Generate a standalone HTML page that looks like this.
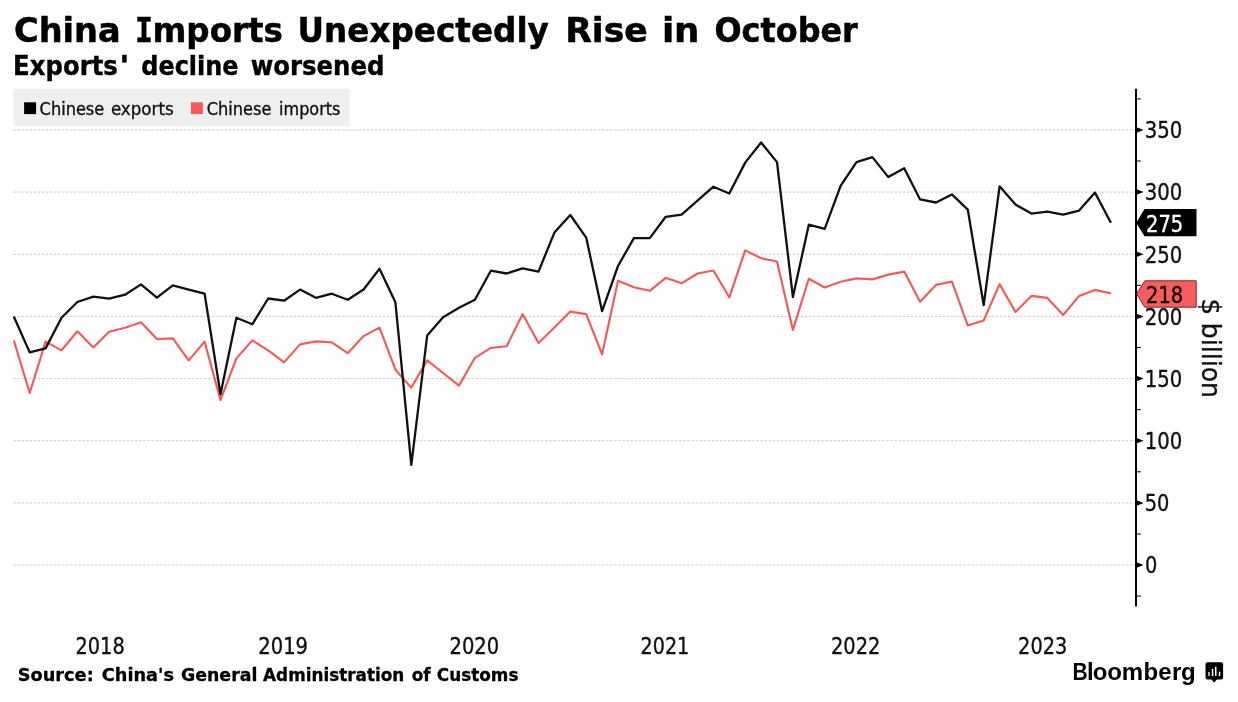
<!DOCTYPE html>
<html lang="en">
<head>
<meta charset="utf-8">
<title>China Imports Unexpectedly Rise in October</title>
<style>
html,body{margin:0;padding:0;background:#fff;}
body{width:1238px;height:702px;overflow:hidden;}
svg{display:block;}
.b{font-family:"DejaVu Sans","Liberation Sans",sans-serif;font-weight:bold;fill:#000;}
.r{font-family:"DejaVu Sans Condensed","DejaVu Sans","Liberation Sans",sans-serif;font-stretch:condensed;fill:#111;}
.l{font-family:"Liberation Sans",sans-serif;font-weight:bold;fill:#000;}
.m{font-family:"DejaVu Sans Mono","Liberation Mono",monospace;font-weight:bold;fill:#000;}
.t{stroke:#000;stroke-width:0.5px;}
.k{stroke:#111;stroke-width:0.35px;}
.u{stroke:#000;stroke-width:0.4px;}
.v{stroke:#000;stroke-width:0.3px;}
.grid line{stroke:#cacaca;stroke-width:1;stroke-dasharray:2.5 1.56;}
.minor line{stroke:#000;stroke-width:1;}
</style>
</head>
<body>
<svg width="1238" height="702" viewBox="0 0 1238 702">
<rect width="1238" height="702" fill="#fff"/>
<g class="b t" font-size="34.2"><text y="41.8"><tspan x="14.0" textLength="106.65" lengthAdjust="spacingAndGlyphs">China</tspan> <tspan class="m t" x="134.9" textLength="18.0" lengthAdjust="spacingAndGlyphs">I</tspan><tspan x="152.5" textLength="130.4" lengthAdjust="spacingAndGlyphs">mports</tspan> <tspan x="297.6" textLength="251.25" lengthAdjust="spacingAndGlyphs">Unexpectedly</tspan> <tspan x="565.2" textLength="82.7" lengthAdjust="spacingAndGlyphs">Rise</tspan> <tspan x="661.9" textLength="37.65" lengthAdjust="spacingAndGlyphs">in</tspan> <tspan x="714.5" textLength="143.35" lengthAdjust="spacingAndGlyphs">October</tspan></text></g>
<g class="b u" font-size="25.8"><text y="75.0"><tspan x="13.1" textLength="104.7" lengthAdjust="spacingAndGlyphs">Exports</tspan><tspan x="119.3" textLength="10.2" lengthAdjust="spacingAndGlyphs">'</tspan> <tspan x="141.3" textLength="97.25" lengthAdjust="spacingAndGlyphs">decline</tspan> <tspan x="250.7" textLength="133.75" lengthAdjust="spacingAndGlyphs">worsened</tspan></text></g>
<g class="grid"><line x1="13.3" x2="1135" y1="565.0" y2="565.0"/><line x1="13.3" x2="1135" y1="502.9" y2="502.9"/><line x1="13.3" x2="1135" y1="440.7" y2="440.7"/><line x1="13.3" x2="1135" y1="378.6" y2="378.6"/><line x1="13.3" x2="1135" y1="316.4" y2="316.4"/><line x1="13.3" x2="1135" y1="254.3" y2="254.3"/><line x1="13.3" x2="1135" y1="192.1" y2="192.1"/><line x1="13.3" x2="1135" y1="129.9" y2="129.9"/></g>
<rect x="13.6" y="88.8" width="336.2" height="37.6" fill="#efefef"/>
<rect x="24.1" y="102.3" width="12" height="11.8" fill="#000"/>
<rect x="190.9" y="102.3" width="12" height="11.8" fill="#f55a5a"/>
<g class="r k" font-size="18.5"><text y="115.2"><tspan x="39.6" textLength="64.65" lengthAdjust="spacingAndGlyphs">Chinese</tspan> <tspan x="110.9" textLength="62.8" lengthAdjust="spacingAndGlyphs">exports</tspan></text>
<text y="115.2"><tspan x="206.7" textLength="64.65" lengthAdjust="spacingAndGlyphs">Chinese</tspan> <tspan x="279.1" textLength="61.25" lengthAdjust="spacingAndGlyphs">imports</tspan></text></g>
<polyline points="13.8,340.4 29.7,393.0 45.6,341.6 61.5,350.4 77.4,331.3 93.3,347.4 109.2,331.8 125.1,327.8 141.0,322.3 156.9,339.1 172.8,338.4 188.7,360.4 204.6,341.6 220.5,400.1 236.4,358.4 252.3,340.4 268.2,350.4 284.1,362.4 300.0,344.4 315.9,341.4 331.8,342.4 347.7,353.2 363.6,336.1 379.5,327.6 395.4,369.7 411.3,387.6 427.2,360.4 443.1,373.0 459.0,385.6 474.9,357.8 490.8,347.9 506.7,346.3 522.6,314.0 538.5,343.0 554.4,327.6 570.3,311.6 586.2,314.1 602.1,354.3 618.0,280.8 633.9,287.3 649.8,290.8 665.7,277.8 681.6,283.3 697.5,273.5 713.4,270.5 729.3,297.3 745.2,250.4 761.1,258.2 777.0,261.5 792.9,329.9 808.8,278.8 824.7,287.5 840.6,281.7 856.5,278.4 872.4,279.4 888.3,274.6 904.2,271.6 920.1,301.7 936.0,284.9 951.9,281.6 967.8,325.5 983.7,320.5 999.6,284.1 1015.5,312.0 1031.4,295.9 1047.3,297.9 1063.2,315.0 1079.1,295.9 1095.0,289.9 1110.9,293.4" fill="none" stroke="#f05c5d" stroke-width="2.15" stroke-linejoin="round"/>
<polyline points="13.8,316.5 29.7,352.4 45.6,348.4 61.5,317.8 77.4,302.0 93.3,296.7 109.2,298.7 125.1,294.7 141.0,284.4 156.9,297.7 172.8,285.4 188.7,289.7 204.6,293.7 220.5,394.3 236.4,317.8 252.3,324.3 268.2,298.5 284.1,300.7 300.0,289.6 315.9,297.8 331.8,293.7 347.7,299.8 363.6,289.5 379.5,268.7 395.4,302.3 411.3,464.8 427.2,335.4 443.1,317.3 459.0,307.8 474.9,299.8 490.8,270.7 506.7,273.5 522.6,268.3 538.5,271.6 554.4,232.6 570.3,215.0 586.2,237.6 602.1,311.2 618.0,266.0 633.9,238.1 649.8,238.1 665.7,216.8 681.6,214.6 697.5,200.7 713.4,186.7 729.3,193.5 745.2,162.6 761.1,142.5 777.0,162.1 792.9,297.0 808.8,224.7 824.7,228.8 840.6,185.9 856.5,162.1 872.4,157.1 888.3,177.1 904.2,168.3 920.1,199.4 936.0,202.5 951.9,194.4 967.8,209.6 983.7,305.2 999.6,186.3 1015.5,204.6 1031.4,213.6 1047.3,211.6 1063.2,214.6 1079.1,210.6 1095.0,192.6 1110.9,222.7" fill="none" stroke="#111" stroke-width="2.3" stroke-linejoin="round"/>
<line x1="1136" x2="1136" y1="88.7" y2="606.6" stroke="#000" stroke-width="2"/>
<g class="minor"><line x1="1136" x2="1140.9" y1="596.1" y2="596.1"/><line x1="1136" x2="1140.9" y1="534.0" y2="534.0"/><line x1="1136" x2="1140.9" y1="471.8" y2="471.8"/><line x1="1136" x2="1140.9" y1="409.7" y2="409.7"/><line x1="1136" x2="1140.9" y1="347.5" y2="347.5"/><line x1="1136" x2="1140.9" y1="285.3" y2="285.3"/><line x1="1136" x2="1140.9" y1="223.2" y2="223.2"/><line x1="1136" x2="1140.9" y1="161.0" y2="161.0"/><line x1="1136" x2="1140.9" y1="98.9" y2="98.9"/></g>
<g fill="#000"><polygon points="1136,562.0 1143.6,565.0 1136,568.0"/><polygon points="1136,499.9 1143.6,502.9 1136,505.9"/><polygon points="1136,437.7 1143.6,440.7 1136,443.7"/><polygon points="1136,375.6 1143.6,378.6 1136,381.6"/><polygon points="1136,313.4 1143.6,316.4 1136,319.4"/><polygon points="1136,251.3 1143.6,254.3 1136,257.3"/><polygon points="1136,189.1 1143.6,192.1 1136,195.1"/><polygon points="1136,126.9 1143.6,129.9 1136,132.9"/></g>
<g class="r k" font-size="22.4"><text x="1144.9" y="573.2" textLength="12.35" lengthAdjust="spacingAndGlyphs">0</text>
<text x="1144.7" y="511.1" textLength="24.6" lengthAdjust="spacingAndGlyphs">50</text>
<text x="1144.8" y="448.9" textLength="37.45" lengthAdjust="spacingAndGlyphs">100</text>
<text x="1144.8" y="386.8" textLength="37.45" lengthAdjust="spacingAndGlyphs">150</text>
<text x="1144.7" y="324.6" textLength="37.55" lengthAdjust="spacingAndGlyphs">200</text>
<text x="1144.7" y="262.5" textLength="37.55" lengthAdjust="spacingAndGlyphs">250</text>
<text x="1144.7" y="200.3" textLength="37.55" lengthAdjust="spacingAndGlyphs">300</text>
<text x="1144.7" y="138.1" textLength="37.55" lengthAdjust="spacingAndGlyphs">350</text></g>
<polygon points="1136.2,222.7 1144.5,209.1 1196.5,209.1 1196.5,236.3 1144.5,236.3" fill="#000"/>
<g class="r" font-size="22.4"><text x="1146.0" y="232.0" textLength="37.15" lengthAdjust="spacingAndGlyphs" style="fill:#fff;stroke:#fff;stroke-width:0.35px">275</text></g>
<polygon points="1136.6,294 1144.8,280.8 1196.2,280.8 1196.2,307.2 1144.8,307.2" fill="#f45e5e" stroke="#8a2020" stroke-width="1"/>
<g class="r" font-size="22.4"><text x="1146.0" y="302.9" textLength="37.15" lengthAdjust="spacingAndGlyphs" style="fill:#1a0000;stroke:#1a0000;stroke-width:0.35px">218</text></g>
<text class="r k" font-size="27" transform="translate(1202,298.5) rotate(90)"><tspan x="0" textLength="16.8" lengthAdjust="spacingAndGlyphs">$</tspan> <tspan x="24.20" textLength="75.4" lengthAdjust="spacingAndGlyphs">billion</tspan></text>
<g class="r k" font-size="22.4"><text x="75.5" y="654.4" textLength="49.2" lengthAdjust="spacingAndGlyphs">2018</text>
<text x="258.3" y="654.4" textLength="49.75" lengthAdjust="spacingAndGlyphs">2019</text>
<text x="449.5" y="654.4" textLength="49.75" lengthAdjust="spacingAndGlyphs">2020</text>
<text x="640.6" y="654.4" textLength="48.6" lengthAdjust="spacingAndGlyphs">2021</text>
<text x="831.0" y="654.4" textLength="49.35" lengthAdjust="spacingAndGlyphs">2022</text>
<text x="1018.1" y="654.4" textLength="49.15" lengthAdjust="spacingAndGlyphs">2023</text></g>
<g class="b v" font-size="17"><text y="680.7"><tspan x="17.8" textLength="75.95" lengthAdjust="spacingAndGlyphs">Source:</tspan> <tspan x="101.8" textLength="72.2" lengthAdjust="spacingAndGlyphs">China's</tspan> <tspan x="181.0" textLength="76.35" lengthAdjust="spacingAndGlyphs">General</tspan> <tspan x="263.1" textLength="141.15" lengthAdjust="spacingAndGlyphs">Administration</tspan> <tspan x="411.7" textLength="18.85" lengthAdjust="spacingAndGlyphs">of</tspan> <tspan x="436.8" textLength="81.7" lengthAdjust="spacingAndGlyphs">Customs</tspan></text></g>
<text class="l" font-size="24" y="679.9"><tspan x="1072.4" textLength="15.2" lengthAdjust="spacingAndGlyphs">B</tspan><tspan x="1087.1 1092.8 1107.2 1121.7 1143.4 1158.2 1171.9 1180.9">loomberg</tspan></text>
<g>
<rect x="1205.5" y="662.2" width="17.6" height="17.2" rx="2" ry="2" fill="#000"/>
<polygon points="1211.2,679 1217.2,679 1214.2,682.8" fill="#000"/>
<rect x="1208.2" y="672" width="1.6" height="4" fill="#ccc"/>
<rect x="1211.8" y="668.9" width="1.5" height="7.1" fill="#fff"/>
<rect x="1215" y="666.8" width="1.5" height="9.2" fill="#fff"/>
<rect x="1218.8" y="671.7" width="1.4" height="4.3" fill="#fff"/>
</g>
</svg>
</body>
</html>
